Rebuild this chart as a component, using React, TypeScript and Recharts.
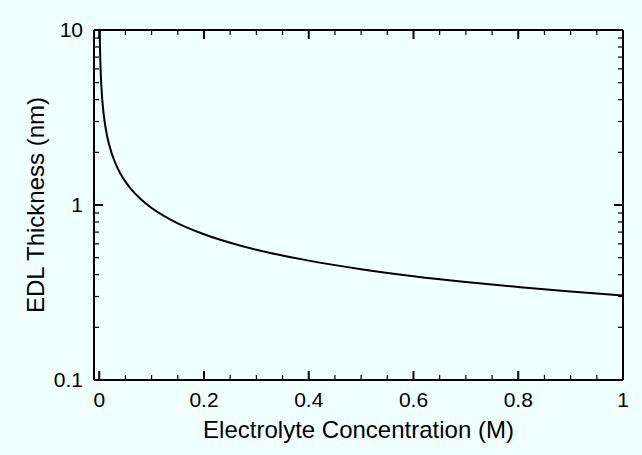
import React from 'react';
import { LineChart, Line, XAxis, YAxis } from 'recharts';

// Electrolyte concentration (M)
const concentrations = [
  0.0009, 0.001, 0.0012, 0.0015, 0.002, 0.0025, 0.003, 0.004, 0.005, 0.0075,
  0.01, 0.015, 0.02, 0.03, 0.04, 0.05, 0.06, 0.08, 0.1, 0.125, 0.15, 0.2,
  0.25, 0.3, 0.4, 0.5, 0.6, 0.7, 0.8, 0.9, 1.0,
];
// EDL thickness (nm)
const thickness = [
  10.13, 9.61, 8.78, 7.85, 6.8, 6.08, 5.55, 4.81, 4.3, 3.51,
  3.04, 2.48, 2.15, 1.755, 1.52, 1.36, 1.241, 1.075, 0.961, 0.86, 0.785, 0.68,
  0.608, 0.555, 0.481, 0.43, 0.392, 0.363, 0.34, 0.32, 0.304,
];

const xTicks = [
  0, 0.05, 0.1, 0.15, 0.2, 0.25, 0.3, 0.35, 0.4, 0.45, 0.5,
  0.55, 0.6, 0.65, 0.7, 0.75, 0.8, 0.85, 0.9, 0.95, 1,
];
const xTickLabels: Record<string, string> = {
  '0': '0', '0.2': '0.2', '0.4': '0.4', '0.6': '0.6', '0.8': '0.8', '1': '1',
};
const yTicks = [
  0.1, 0.2, 0.3, 0.4, 0.5, 0.6, 0.7, 0.8, 0.9,
  1, 2, 3, 4, 5, 6, 7, 8, 9, 10,
];
const yTickLabels: Record<string, string> = { '0.1': '0.1', '1': '1', '10': '10' };

const data = concentrations.map((c, i) => ({ conc: c, thickness: thickness[i] }));

const FONT = '"Liberation Sans", Arial, Helvetica, sans-serif';
const BG = '#F0FFFF';
const MAJOR = 9;
const MINOR = 5;
const TICK_FONT = 21;
const TITLE_FONT = 24;

const BottomTick = (props: any) => {
  const { x, y, payload } = props;
  const label = xTickLabels[String(payload.value)];
  const len = label !== undefined ? MAJOR : MINOR;
  return (
    <g>
      <line x1={x} y1={y} x2={x} y2={y - len} stroke="#000" strokeWidth={label !== undefined ? 2 : 1.2} />
      {label !== undefined && (
        <text x={x} y={y + 27} textAnchor="middle" fontSize={TICK_FONT} fontFamily={FONT} fill="#000">
          {label}
        </text>
      )}
    </g>
  );
};

const TopTick = (props: any) => {
  const { x, y, payload } = props;
  const major = xTickLabels[String(payload.value)] !== undefined;
  return <line x1={x} y1={y} x2={x} y2={y + (major ? MAJOR : MINOR)} stroke="#000" strokeWidth={major ? 2 : 1.2} />;
};

const LeftTick = (props: any) => {
  const { x, y, payload } = props;
  const label = yTickLabels[String(payload.value)];
  const len = label !== undefined ? MAJOR : MINOR;
  return (
    <g>
      <line x1={x} y1={y} x2={x + len} y2={y} stroke="#000" strokeWidth={label !== undefined ? 2 : 1.2} />
      {label !== undefined && (
        <text x={x - 11} y={y + 7} textAnchor="end" fontSize={TICK_FONT} fontFamily={FONT} fill="#000">
          {label}
        </text>
      )}
    </g>
  );
};

const RightTick = (props: any) => {
  const { x, y, payload } = props;
  const major = yTickLabels[String(payload.value)] !== undefined;
  return <line x1={x} y1={y} x2={x - (major ? MAJOR : MINOR)} y2={y} stroke="#000" strokeWidth={major ? 2 : 1.2} />;
};

const axisLine = { stroke: '#000', strokeWidth: 2 };

export default function App() {
  return (
    <div style={{ position: 'absolute', left: 0, top: 0, width: 642, height: 455, background: BG }}>
      <LineChart
        width={642}
        height={455}
        data={data}
        margin={{ top: 0, right: 0, bottom: 0, left: 0 }}
        style={{ fontFamily: FONT }}
      >
        <XAxis
          xAxisId="bottom"
          dataKey="conc"
          type="number"
          domain={[-0.01, 1]}
          allowDataOverflow
          ticks={xTicks}
          interval={0}
          tickSize={0}
          tickMargin={0}
          tickLine={false}
          axisLine={axisLine}
          tick={<BottomTick />}
          height={75}
          label={{
            value: 'Electrolyte Concentration (M)',
            position: 'insideBottom',
            offset: 17,
            fontSize: TITLE_FONT,
            fill: '#000',
            fontFamily: FONT,
          }}
        />
        <XAxis
          xAxisId="top"
          orientation="top"
          dataKey="conc"
          type="number"
          domain={[-0.01, 1]}
          allowDataOverflow
          ticks={xTicks}
          interval={0}
          tickSize={0}
          tickMargin={0}
          tickLine={false}
          axisLine={axisLine}
          tick={<TopTick />}
          height={30}
        />
        <YAxis
          yAxisId="left"
          scale="log"
          type="number"
          domain={[0.1, 10]}
          allowDataOverflow
          ticks={yTicks}
          interval={0}
          tickSize={0}
          tickMargin={0}
          tickLine={false}
          axisLine={axisLine}
          tick={<LeftTick />}
          width={94}
          label={{
            value: 'EDL Thickness (nm)',
            angle: -90,
            position: 'insideLeft',
            offset: 35,
            fontSize: TITLE_FONT,
            fill: '#000',
            fontFamily: FONT,
            style: { textAnchor: 'middle' },
          }}
        />
        <YAxis
          yAxisId="right"
          orientation="right"
          scale="log"
          type="number"
          domain={[0.1, 10]}
          allowDataOverflow
          ticks={yTicks}
          interval={0}
          tickSize={0}
          tickMargin={0}
          tickLine={false}
          axisLine={axisLine}
          tick={<RightTick />}
          width={19}
        />
        <Line
          xAxisId="bottom"
          yAxisId="left"
          dataKey="thickness"
          type="monotone"
          stroke="#000"
          strokeWidth={2}
          dot={false}
          isAnimationActive={false}
        />
      </LineChart>
    </div>
  );
}
